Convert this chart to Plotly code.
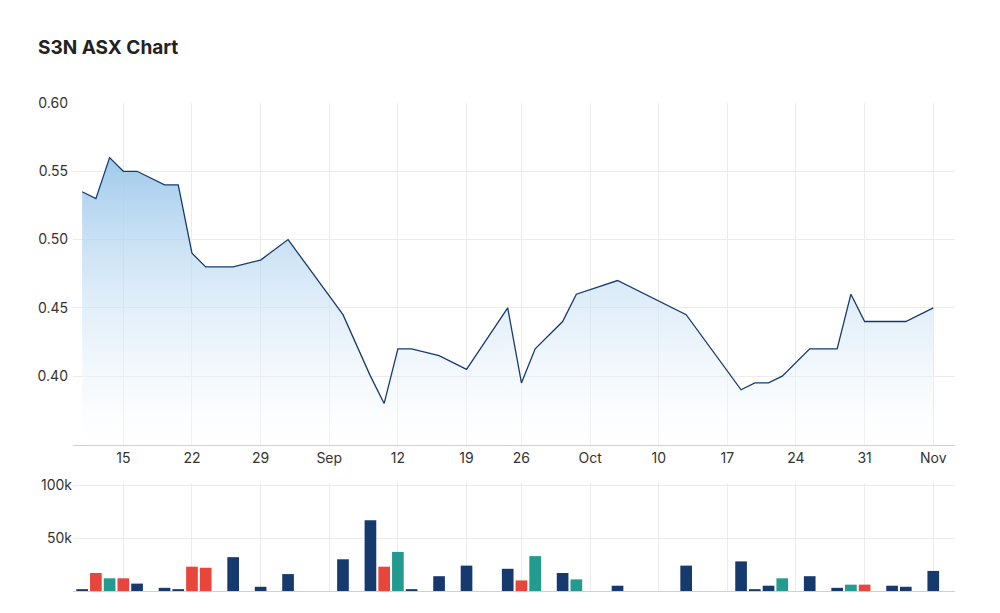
import plotly.graph_objects as go

price_dates = ["2022-08-10","2022-08-11","2022-08-12","2022-08-15","2022-08-16","2022-08-18","2022-08-19",
    "2022-08-22","2022-08-23","2022-08-25","2022-08-29","2022-08-31","2022-09-06","2022-09-08","2022-09-09",
    "2022-09-12","2022-09-13","2022-09-15","2022-09-19","2022-09-23","2022-09-26","2022-09-27","2022-09-29",
    "2022-09-30","2022-10-05","2022-10-12","2022-10-18","2022-10-19","2022-10-20","2022-10-21","2022-10-25",
    "2022-10-27","2022-10-28","2022-10-31","2022-11-03","2022-11-07"]
prices = [0.535,0.53,0.56,0.55,0.55,0.54,0.54,0.49,0.48,0.48,0.485,0.50,0.445,0.40,0.38,
    0.42,0.42,0.415,0.405,0.45,0.395,0.42,0.44,0.46,0.47,0.445,0.39,0.395,0.395,0.40,0.42,
    0.42,0.46,0.44,0.44,0.45]

vol_dates = ["2022-08-10","2022-08-11","2022-08-12","2022-08-15","2022-08-16","2022-08-18","2022-08-19",
    "2022-08-22","2022-08-23","2022-08-25","2022-08-29","2022-08-31","2022-09-06","2022-09-08","2022-09-09",
    "2022-09-12","2022-09-13","2022-09-15","2022-09-19","2022-09-23","2022-09-26","2022-09-27","2022-09-29",
    "2022-09-30","2022-10-05","2022-10-12","2022-10-18","2022-10-19","2022-10-20","2022-10-21","2022-10-25",
    "2022-10-27","2022-10-28","2022-10-31","2022-11-02","2022-11-03","2022-11-07"]
volumes = [1500,17000,12000,12000,7000,3000,1500,23000,22000,32000,4000,16000,30000,67000,23000,
    37000,1500,14000,24000,21000,10000,33000,17000,11000,5000,24000,28000,1500,5000,12000,14000,
    3000,6000,6000,5000,4000,19000]
vol_dir = ["flat","down","up","down","flat","flat","flat","down","down","flat","flat","flat","flat","flat","down",
    "up","flat","flat","flat","flat","down","up","flat","up","flat","flat","flat","flat","flat","up","flat",
    "flat","up","down","flat","flat","flat"]

tick_dates = ["2022-08-15","2022-08-22","2022-08-29","2022-09-05","2022-09-12","2022-09-19","2022-09-26",
    "2022-10-03","2022-10-10","2022-10-17","2022-10-24","2022-10-31","2022-11-07"]
tick_labels = ["15","22","29","Sep","12","19","26","Oct","10","17","24","31","Nov"]

dir_colors = {"flat": "#173a6e", "down": "#e8453c", "up": "#249b8f"}
navy = "#173a6e"
grid = "#ececec"

fig = go.Figure()
fig.add_trace(go.Scatter(
    x=price_dates, y=prices, mode="lines", line=dict(color=navy, width=1.3),
    fill="tozeroy",
    fillgradient=dict(type="vertical", start=0.35, stop=0.56,
                      colorscale=[[0, "rgba(255,255,255,0.3)"], [1, "rgba(150,196,234,0.9)"]]),
    xaxis="x", yaxis="y", showlegend=False, hoverinfo="x+y"))
fig.add_trace(go.Bar(
    x=vol_dates, y=volumes, marker=dict(color=[dir_colors[d] for d in vol_dir], line=dict(width=0)),
    width=1000*3600*24*0.85, xaxis="x2", yaxis="y2", showlegend=False))

rb = [dict(bounds=["sat", "mon"]), dict(values=["2022-09-22"])]
xrange = ["2022-08-09 08:00", "2022-11-08 14:00"]
common_x = dict(type="date", rangebreaks=rb, range=xrange, tickvals=tick_dates, ticktext=tick_labels,
                showgrid=True, gridcolor=grid, linecolor="#d0d0d0", showline=True, ticks="",
                zeroline=False, tickfont=dict(size=14, color="#333"))
fig.update_layout(
    width=1000, height=613, plot_bgcolor="white", paper_bgcolor="white",
    margin=dict(l=65, r=53, t=95, b=30),
    font=dict(family="Inter, Roboto, sans-serif", color="#333"),
    title=dict(text="<b>S3N ASX Chart</b>", x=0.03, xanchor="left", y=0.935, yanchor="middle",
               font=dict(size=19, color="#222")),
    xaxis=dict(common_x, domain=[0, 1], anchor="y"),
    xaxis2=dict(common_x, domain=[0, 1], anchor="y2", matches="x", showticklabels=False),
    yaxis=dict(domain=[0.299, 1], range=[0.3495, 0.60], tickvals=[0.40, 0.45, 0.50, 0.55, 0.60],
               tickprefix="$", tickformat=".2f", showgrid=True, gridcolor=grid, zeroline=False,
               showline=False, tickfont=dict(size=14, color="#333"), ticklabelstandoff=4),
    yaxis2=dict(domain=[0, 0.221], range=[0, 102000], tickvals=[50000, 100000], ticktext=["50k", "100k"],
                showgrid=True, gridcolor=grid, zeroline=False, tickfont=dict(size=14, color="#333")),
    bargap=0.15,
)
fig.write_html("out.html")
